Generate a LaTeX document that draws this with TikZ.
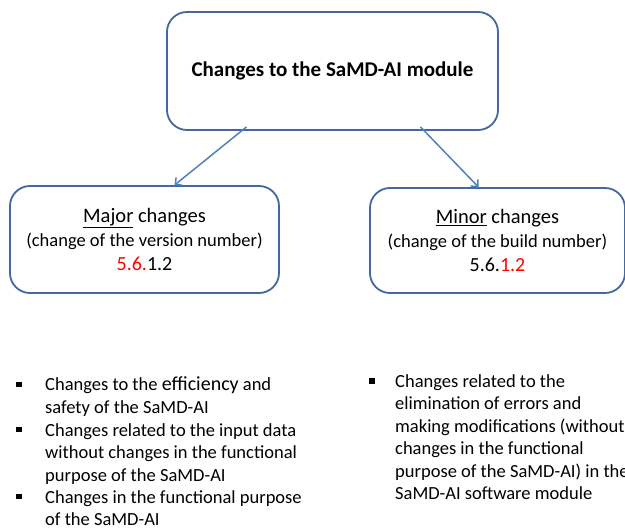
\documentclass[tikz,border=0pt]{standalone}
\usepackage{fontspec}
\setmainfont{Carlito}
\usepackage{tikz}
\usetikzlibrary{arrows.meta}
\definecolor{boxblue}{RGB}{65,105,160}
\definecolor{arrowblue}{RGB}{79,129,189}

\begin{document}
\begin{tikzpicture}[x=1pt,y=-1pt,
	box/.style={draw=boxblue,line width=1.8pt,rounded corners=20pt,align=center,inner sep=0pt},
	arr/.style={draw=arrowblue,line width=1.5pt,-{Straight Barb[length=5pt,width=10pt]}},
	sqbullet/.style={fill=black,minimum size=5.5pt,inner sep=0pt},
	item/.style={anchor=north west,align=left,inner sep=0pt,font=\fontsize{18.5}{22.5}\selectfont}]
	\useasboundingbox (0,0) rectangle (625,530);
	\def\up{15.75}

	\node[box,minimum width=331pt,minimum height=118pt] (top) at (332.5,71)
		{\fontsize{21}{24}\selectfont\bfseries Changes to the SaMD-AI module};
	\node[box,minimum width=269pt,minimum height=107pt,font=\fontsize{18.5}{24}\selectfont] (major) at (144.5,239.5)
		{{\fontsize{20.5}{24}\selectfont\underline{Major} changes}\\(change of the version number)\\{\fontsize{20}{24}\selectfont\textcolor{red}{5.6.}1.2}};
	\node[box,minimum width=255pt,minimum height=105pt,font=\fontsize{18.5}{24}\selectfont] (minor) at (497.5,240.5)
		{{\fontsize{20.5}{24}\selectfont\underline{Minor} changes}\\(change of the build number)\\{\fontsize{20}{24}\selectfont 5.6.\textcolor{red}{1.2}}};

	\draw[arr] ([xshift=-86pt,yshift=4pt]top.south) -- ([xshift=30pt]major.north);
	\draw[arr] ([xshift=88pt,yshift=4pt]top.south) -- ([xshift=-19pt]minor.north);

	\node[sqbullet] (b1) at (19,384.5) {};
	\node[item] (i1) at (45,390.5-\up) {\strut Changes to the {\fontsize{20}{22.5}\selectfont efficiency} and\\safety of the SaMD-AI};
	\node[sqbullet] (b2) at (19,429.5) {};
	\node[item] (i2) at (45,436-\up) {\strut Changes related to the input data\\without changes in the functional\\purpose of the SaMD-AI};
	\node[sqbullet] (b3) at (19,496.5) {};
	\node[item] (i3) at (45,503-\up) {\strut Changes in the functional purpose\\of the SaMD-AI};

	\node[sqbullet] (b4) at (372,381) {};
	\node[item] (i4) at (395,387-\up) {\strut Changes related to the\\elimination of errors and\\making modifications (without\\changes in the functional\\purpose of the SaMD-AI) in the\\SaMD-AI software module};
\end{tikzpicture}
\end{document}
